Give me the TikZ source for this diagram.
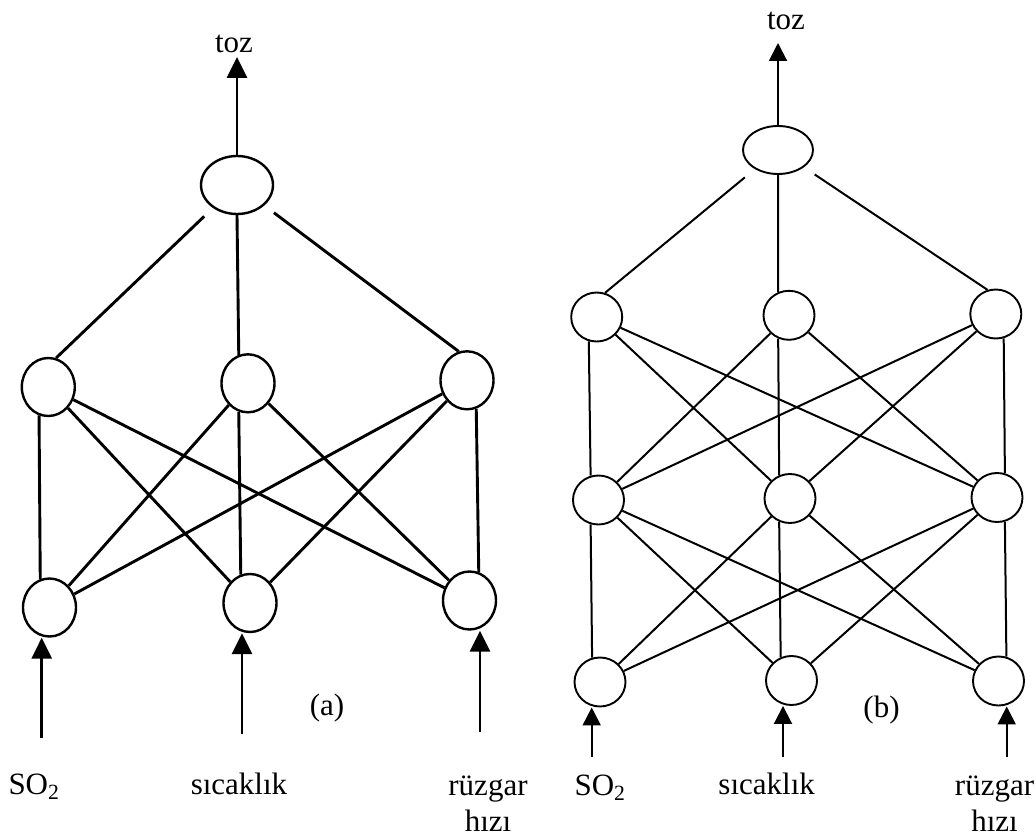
\documentclass[tikz,border=0pt]{standalone}
\usepackage{fontspec}
\setmainfont{Liberation Serif}
\usetikzlibrary{shapes.geometric,arrows.meta}

\tikzset{
  neuronA/.style={ellipse, draw, line width=2.4pt, inner sep=0pt,
    minimum width=53pt, minimum height=58pt},
  neuronB/.style={ellipse, draw, line width=1.9pt, inner sep=0pt,
    minimum width=51pt, minimum height=49pt},
  edgeA/.style={line width=2.9pt},
  edgeB/.style={line width=2pt},
  arrowA/.style={line width=2.9pt, -{Triangle[length=21pt,width=20pt]}},
  arrowB/.style={line width=2pt, -{Triangle[length=18pt,width=18pt]}},
  lbl/.style={inner sep=0pt, anchor=base, font=\fontsize{31}{36}\selectfont}
}

\begin{document}
\begin{tikzpicture}[x=1pt, y=-1pt]
\useasboundingbox (0,0) rectangle (1036,840);

% ---------------- network (a): 3-3-1 ----------------
\node[neuronA, minimum width=72pt, minimum height=58pt] (oA) at (237,185) {};
\node[neuronA] (hA1) at (48.3,387) {};
\node[neuronA] (hA2) at (248,383.3) {};
\node[neuronA] (hA3) at (467,380.3) {};
\node[neuronA] (iA1) at (49.5,607.5) {};
\node[neuronA] (iA2) at (250,603) {};
\node[neuronA] (iA3) at (469.5,600.5) {};

% output arrow
\coordinate (tA) at (237,57);
\draw[arrowA] (oA.north) -- (tA);
\node[lbl] (tozA) at (234,53) {toz};

% hidden -> output
\draw[edgeA, shorten <=12pt] (oA) -- (hA1.75);
\draw[edgeA] (oA.south) -- (hA2.108);
\draw[edgeA, shorten <=12pt] (oA) -- (hA3.106);

% input -> hidden
\draw[edgeA] (hA1.252) -- (iA1.108);
\draw[edgeA] (hA2.252) -- (iA2.108);
\draw[edgeA] (hA3.288) -- (iA3.72);
\foreach \i/\h in {1/2,1/3,2/1,2/3,3/1,3/2}
  \draw[edgeA] (iA\i) -- (hA\h);

% input arrows
\coordinate (sA1) at (41.7,738);
\coordinate (sA2) at (242,734);
\coordinate (sA3) at (480,732);
\draw[arrowA] (sA1) -- (sA1 |- iA1.south);
\draw[arrowA] (sA2) -- (sA2 |- iA2.south);
\draw[arrowA] (sA3) -- (sA3 |- iA3.south);

\node[lbl] (capA) at (327,715) {(a)};
\node[lbl] (so2A) at (34,794) {SO\textsubscript{2}};
\node[lbl] (sicA) at (239,794) {sıcaklık};
\node[lbl] (ruzA) at (488,795) {rüzgar};
\node[lbl] (hizA) at (488,831.7) {hızı};

% ---------------- network (b): 3-3-3-1 ----------------
\node[neuronB, minimum width=70pt, minimum height=48pt] (oB) at (778,150) {};
\node[neuronB] (gB1) at (596.7,317) {};
\node[neuronB] (gB2) at (789,315.3) {};
\node[neuronB] (gB3) at (995.8,314) {};
\node[neuronB] (hB1) at (598.5,500) {};
\node[neuronB] (hB2) at (790,498.5) {};
\node[neuronB] (hB3) at (997,497.5) {};
\node[neuronB] (iB1) at (600,682) {};
\node[neuronB] (iB2) at (791.5,680.5) {};
\node[neuronB] (iB3) at (998.5,681) {};

% output arrow
\coordinate (tB) at (778,43);
\draw[arrowB] (oB.north) -- (tB);
\node[lbl] (tozB) at (786,30) {toz};

% second hidden layer -> output
\draw[edgeB, shorten <=13pt] (oB) -- (gB1.71);
\draw[edgeB] (oB.south) -- (gB2.115);
\draw[edgeB, shorten <=13pt] (oB) -- (gB3.109);

% first hidden layer -> second hidden layer
\draw[edgeB] (gB1.252) -- (hB1.108);
\draw[edgeB] (gB2.245) -- (hB2.115);
\draw[edgeB] (gB3.288) -- (hB3.72);
\foreach \i/\h in {1/2,1/3,2/1,2/3,3/1,3/2}
  \draw[edgeB] (hB\i) -- (gB\h);

% input -> first hidden layer
\draw[edgeB] (hB1.252) -- (iB1.108);
\draw[edgeB] (hB2.245) -- (iB2.115);
\draw[edgeB] (hB3.288) -- (iB3.72);
\foreach \i/\h in {1/2,1/3,2/1,2/3,3/1,3/2}
  \draw[edgeB] (iB\i) -- (hB\h);

% input arrows
\coordinate (sB1) at (591.7,757);
\coordinate (sB2) at (783,757);
\coordinate (sB3) at (1006.7,757);
\draw[arrowB] (sB1) -- (sB1 |- iB1.south);
\draw[arrowB] (sB2) -- (sB2 |- iB2.south);
\draw[arrowB] (sB3) -- (sB3 |- iB3.south);

\node[lbl] (capB) at (881.5,717) {(b)};
\node[lbl] (so2B) at (600,795) {SO\textsubscript{2}};
\node[lbl] (sicB) at (766.7,794) {sıcaklık};
\node[lbl] (ruzB) at (994.5,795) {rüzgar};
\node[lbl] (hizB) at (994.5,831.7) {hızı};
\end{tikzpicture}
\end{document}
